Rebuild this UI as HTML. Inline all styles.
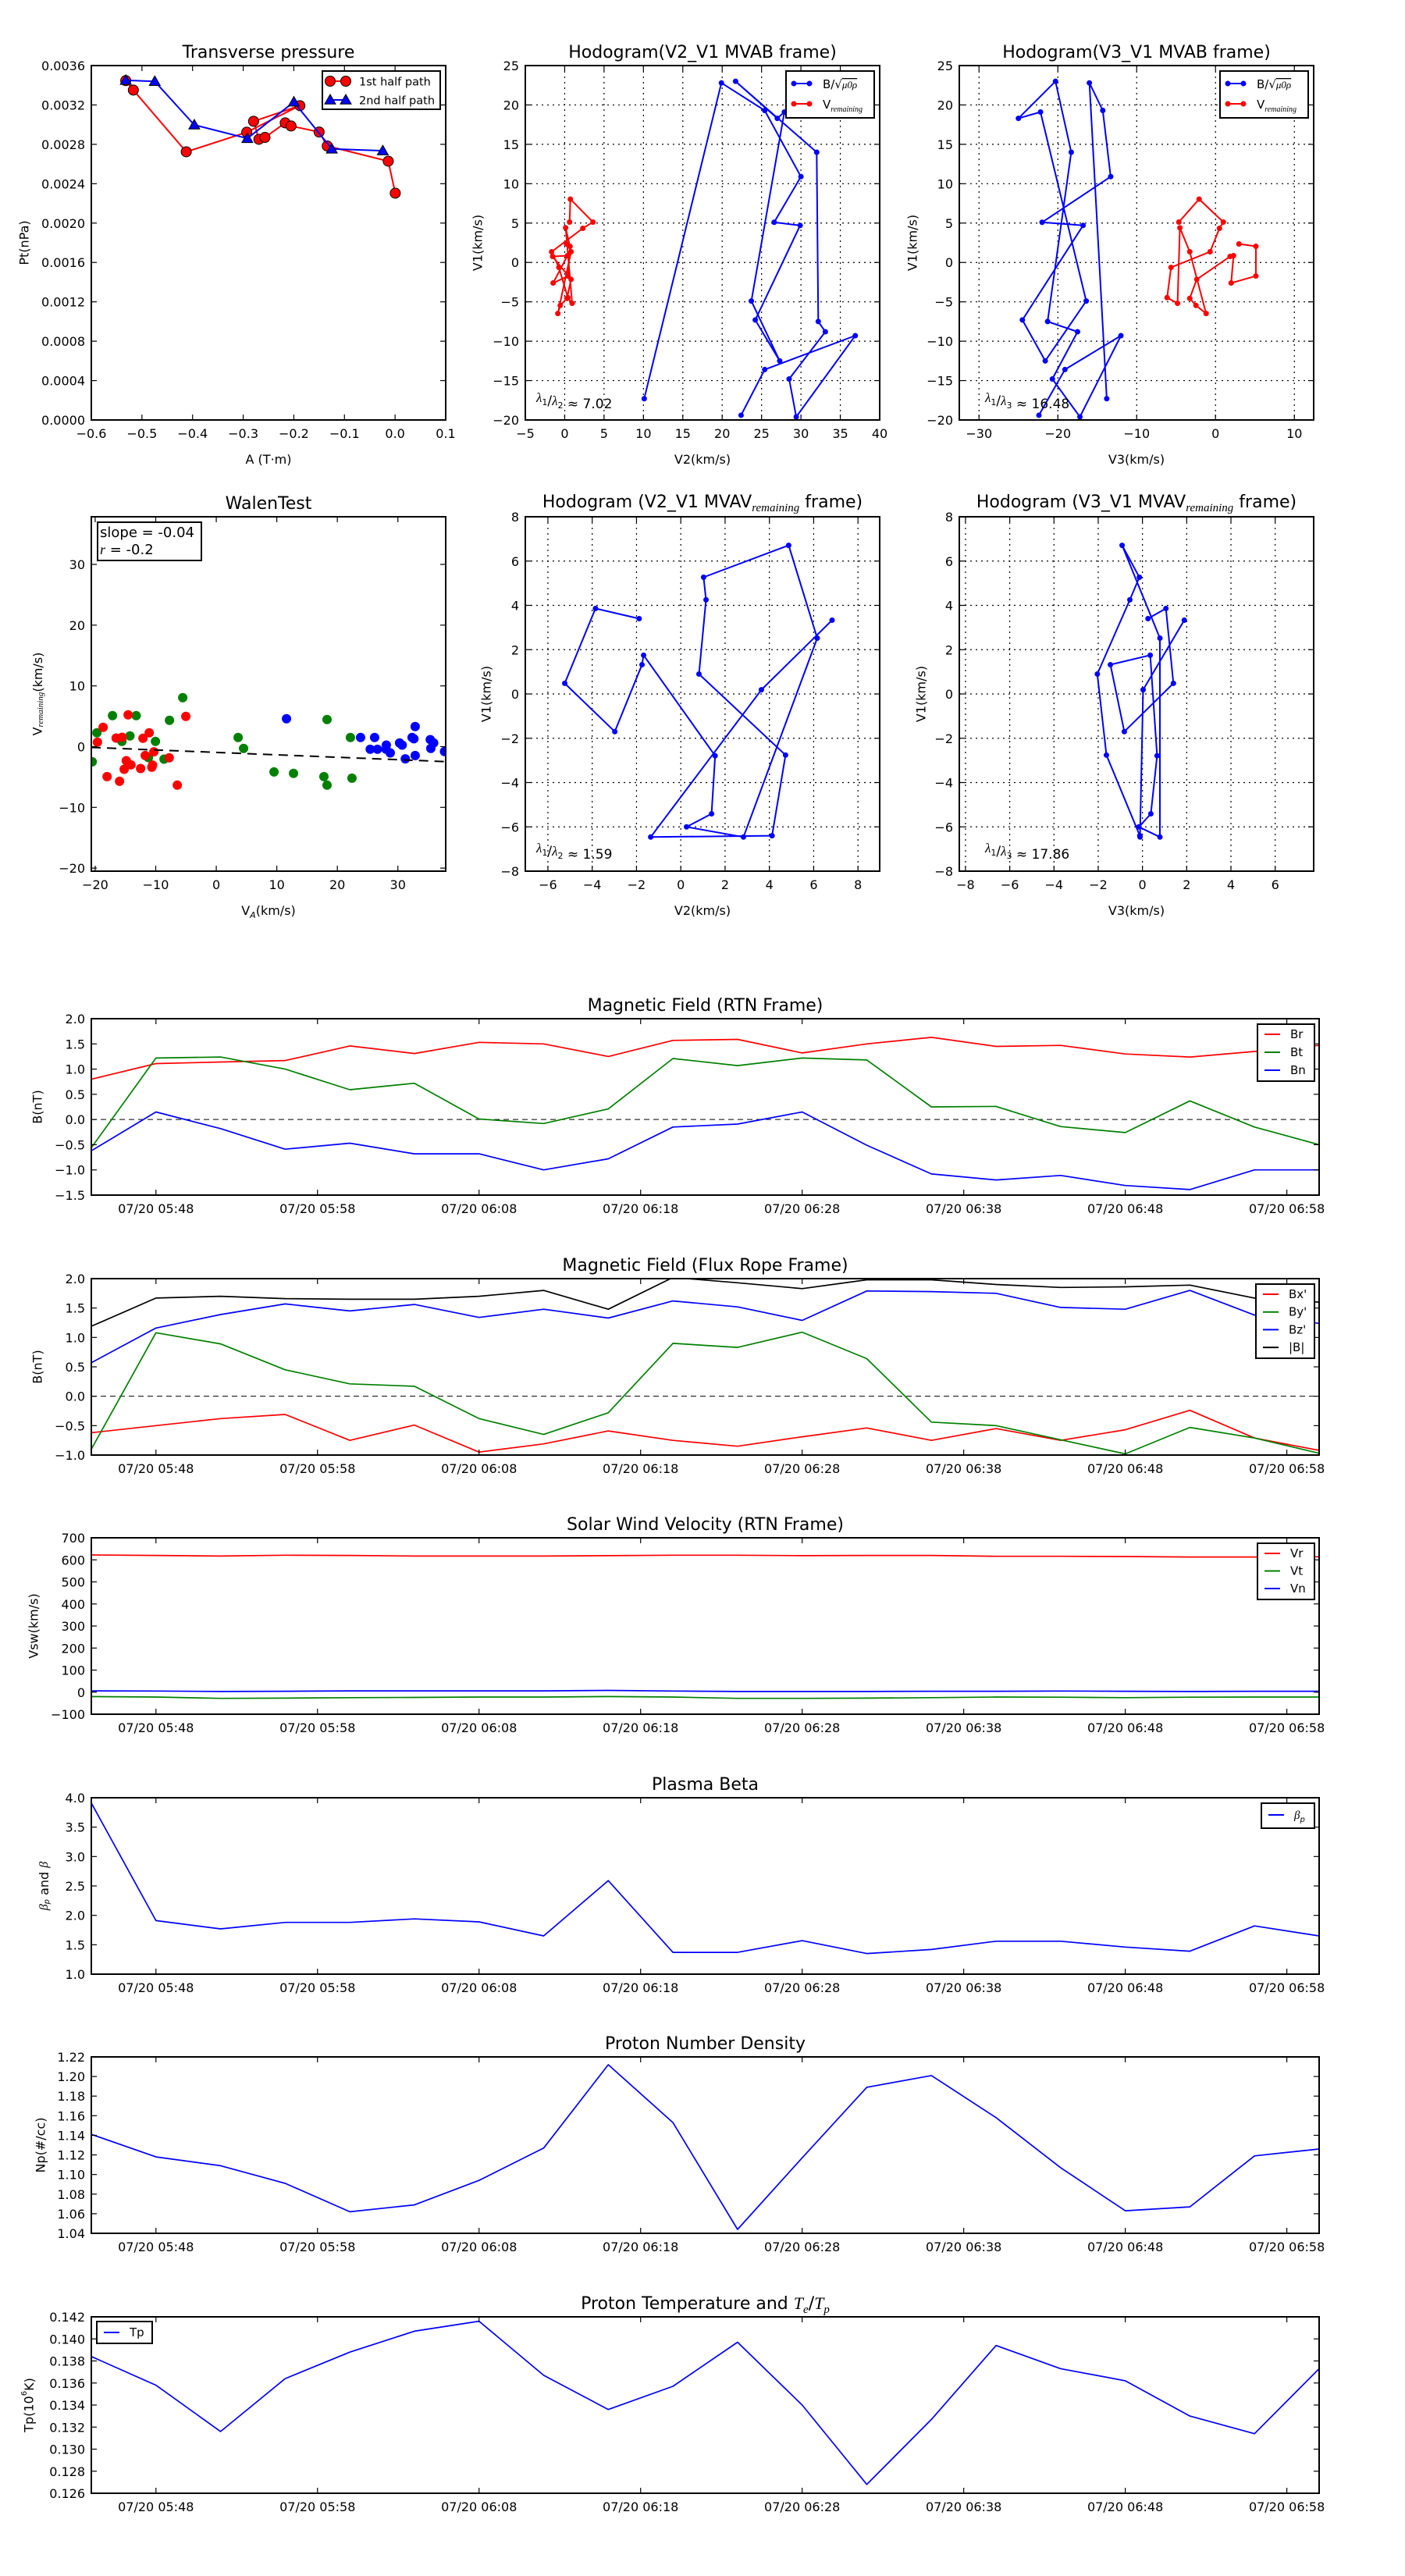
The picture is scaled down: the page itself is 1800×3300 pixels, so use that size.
<!DOCTYPE html>
<html><head><meta charset="utf-8"><style>
html,body{margin:0;padding:0;background:#fff;}
svg{display:block;font-family:"DejaVu Sans","Liberation Sans",sans-serif;}
</style></head><body>
<svg id="fig" xmlns="http://www.w3.org/2000/svg" width="1800" height="3300" viewBox="0 0 1800 3300"></svg>
<script>
// ---------- data ----------
const ptA1 = [-0.532,-0.517,-0.4125,-0.293,-0.188,-0.2795,-0.269,-0.257,-0.217,-0.2055,-0.150,-0.134,-0.0135,0.0004];
const ptP1 = [0.003447,0.003351,0.002724,0.002923,0.003193,0.003034,0.002851,0.00287,0.003018,0.002986,0.002925,0.002783,0.002629,0.002304];
const ptA2 = [-0.532,-0.4747,-0.3966,-0.2918,-0.1999,-0.1249,-0.0243];
const ptP2 = [0.00345,0.003439,0.002997,0.00286,0.00323,0.002753,0.002735];

const v1B = [-17.3,22.8,19.3,10.9,5.1,4.7,-7.3,-12.5,-4.9,19.1,18.3,23.0,14.0,-7.5,-8.8,-14.8,-19.6,-9.3,-13.6,-19.4];
const v2B = [10.1,19.9,25.4,30.0,26.6,29.9,24.2,27.3,23.7,27.9,27.0,21.7,32.0,32.2,33.1,28.5,29.4,36.9,25.4,22.4];
const v3B = [-13.8,-16.0,-14.3,-13.3,-22.0,-16.8,-24.5,-21.6,-16.4,-22.2,-25.0,-20.3,-18.3,-21.3,-17.5,-20.7,-17.2,-12.0,-19.1,-22.4];
const v1R = [2.35,2.05,-1.72,-2.61,0.86,0.76,-2.15,-4.56,-5.46,-6.48,1.36,4.40,-5.19,-4.46,-0.63,1.36,4.33,5.13,8.04,5.13];
const v2R = [0.22,0.68,0.42,-1.47,0.35,-1.53,0.81,0.29,-0.57,-0.87,0.81,0.12,0.95,0.40,-0.74,-1.66,2.30,3.59,0.72,0.62];
const v3R = [2.97,5.12,5.12,1.98,2.28,1.85,-2.38,-3.27,-2.48,-1.19,-3.27,-4.52,-4.82,-6.14,-5.64,-0.69,0.50,0.99,-2.08,-4.65];

const v1M = [3.40,3.86,0.48,-1.70,1.32,1.75,-2.79,-5.41,-6.0,-6.46,2.52,6.71,5.27,4.25,0.90,-2.76,-6.40,-6.46,0.19,3.33];
const v2M = [-1.88,-3.85,-5.24,-2.98,-1.75,-1.68,1.55,1.39,0.26,2.83,6.16,4.87,1.03,1.14,0.82,4.73,4.12,-1.36,3.64,6.83];
const v3M = [0.25,1.06,1.40,-0.82,-1.45,0.35,0.66,0.38,-0.16,0.79,0.79,-0.92,-0.14,-0.57,-2.04,-1.63,-0.12,-0.11,0.03,1.89];

const walRx = [-18.69,-19.63,-16.54,-15.55,-14.56,-12.11,-11.08,-11.73,-10.31,-14.86,-14.09,-15.21,-12.5,-10.52,-10.65,-7.77,-5.03,-18.04,-15.98,-6.44];
const walRy = [3.17,0.73,1.41,1.54,5.23,1.37,2.27,-1.46,-0.86,-2.31,-3.0,-3.73,-3.6,-3.04,-3.39,-1.84,4.97,-4.93,-5.70,-6.34];
const walGx = [-20.49,-19.72,-17.14,-15.59,-14.26,-13.23,-10.05,-11.21,-8.63,-7.73,-5.54,3.61,4.51,9.54,12.76,17.78,18.3,18.3,22.16,22.42];
const walGy = [-2.49,2.27,5.1,0.86,1.76,5.1,0.86,-1.8,-2.06,4.33,8.06,1.5,-0.3,-4.16,-4.41,-4.93,-6.34,4.46,1.5,-5.19];
const walBx = [11.6,23.84,26.16,25.43,26.63,28.09,28.05,28.74,30.28,30.71,31.23,32.35,32.65,32.86,32.86,35.35,35.91,35.44,37.7];
const walBy = [4.59,1.5,1.5,-0.43,-0.43,0.26,-0.43,-1.03,0.6,0.26,-2.01,1.5,1.29,3.3,-1.46,1.16,0.6,-0.3,-0.81];
const walSlope = [-0.04];
const walIntercept = [-0.95];

const timeCats = ["05:44","05:48","05:52","05:56","06:00","06:04","06:08","06:12","06:16","06:20","06:24","06:28","06:32","06:36","06:40","06:44","06:48","06:52","06:56","07:00"];
const timeTicks = ["05:48","05:58","06:08","06:18","06:28","06:38","06:48","06:58"];
const timeTickLabels = ["07/20 05:48","07/20 05:58","07/20 06:08","07/20 06:18","07/20 06:28","07/20 06:38","07/20 06:48","07/20 06:58"];

const br = [0.80,1.11,1.14,1.17,1.46,1.31,1.53,1.50,1.25,1.57,1.59,1.32,1.50,1.63,1.45,1.47,1.30,1.24,1.35,1.47];
const bt = [-0.56,1.22,1.24,1.00,0.59,0.72,0.01,-0.08,0.21,1.21,1.07,1.22,1.18,0.25,0.26,-0.14,-0.26,0.37,-0.15,-0.50];
const bn = [-0.62,0.15,-0.18,-0.59,-0.47,-0.68,-0.68,-1.00,-0.78,-0.15,-0.09,0.15,-0.51,-1.08,-1.20,-1.11,-1.31,-1.39,-1.00,-1.00];
const bxp = [-0.62,-0.50,-0.38,-0.31,-0.75,-0.49,-0.95,-0.81,-0.59,-0.75,-0.85,-0.69,-0.54,-0.75,-0.55,-0.75,-0.57,-0.24,-0.71,-0.92];
const byp = [-0.90,1.08,0.89,0.45,0.21,0.17,-0.38,-0.65,-0.28,0.90,0.83,1.09,0.64,-0.44,-0.50,-0.74,-0.98,-0.53,-0.71,-0.97];
const bzp = [0.57,1.16,1.39,1.57,1.45,1.56,1.34,1.48,1.33,1.62,1.52,1.29,1.79,1.78,1.75,1.51,1.48,1.80,1.38,1.24];
const bmag = [1.19,1.67,1.70,1.66,1.65,1.65,1.70,1.80,1.48,2.02,1.93,1.83,1.98,1.98,1.90,1.85,1.86,1.89,1.67,1.60];
const vr = [622,620,617,621,620,617,617,617,619,621,621,619,620,620,616,616,615,613,613,614];
const vt = [-20,-22,-28,-27,-25,-24,-22,-22,-20,-22,-28,-28,-27,-25,-22,-23,-25,-23,-22,-22];
const vn = [6,5,3,4,6,6,6,6,8,5,3,3,3,4,4,5,4,3,4,4];
const betaP = [3.91,1.91,1.77,1.88,1.88,1.94,1.89,1.65,2.59,1.37,1.37,1.57,1.35,1.42,1.56,1.56,1.46,1.39,1.82,1.65];
const np = [1.141,1.118,1.109,1.091,1.062,1.069,1.094,1.127,1.212,1.153,1.044,1.117,1.189,1.201,1.158,1.107,1.063,1.067,1.119,1.126];
const tp = [0.1384,0.1358,0.1316,0.1364,0.1388,0.1407,0.1416,0.1367,0.1336,0.1357,0.1397,0.1340,0.1268,0.1327,0.1394,0.1373,0.1362,0.1330,0.1314,0.1373];

// ---------- helpers ----------
const NS = "http://www.w3.org/2000/svg";
const svg = document.getElementById('fig');
let clipId = 0;
function mk(tag, attrs, parent, name, inter) {
  const e = document.createElementNS(NS, tag);
  for (const k in attrs) e.setAttribute(k, attrs[k]);
  
  
  parent.appendChild(e);
  return e;
}
function txt(parent, x, y, s, size, anchor, name, extra) {
  const t = mk('text', Object.assign({x: x, y: y, 'font-size': size, 'text-anchor': anchor || 'middle', fill: '#000'}, extra || {}), parent, name, false);
  t.textContent = s;
  return t;
}
function fmtNum(v, d) {
  const s = Math.abs(v).toFixed(d);
  return (v < -1e-12 ? '\u2212' : '') + s;
}
function toMin(s) { const p = s.split(':'); return (+p[0]) * 60 + (+p[1]) - (5 * 60 + 44); }

function axes(c) {
  const g = mk('g', {}, svg, c.name, false);
  const sx = v => c.x0 + (v - c.xmin) / (c.xmax - c.xmin) * (c.x1 - c.x0);
  const sy = v => c.y1 - (v - c.ymin) / (c.ymax - c.ymin) * (c.y1 - c.y0);
  const id = 'clip' + (clipId++);
  const cp = mk('clipPath', {id: id}, g, 'clip-region', false);
  mk('rect', {x: c.x0, y: c.y0, width: c.x1 - c.x0, height: c.y1 - c.y0}, cp, 'clip-rect', false);
  if (c.grid) {
    c.xticks.forEach(v => { const X = sx(v); if (X > c.x0 + 1 && X < c.x1 - 1) mk('line', {x1: X, x2: X, y1: c.y0, y2: c.y1, stroke: '#000', 'stroke-width': 1.2, 'stroke-dasharray': '2,5'}, g, 'x-grid-line', false); });
    c.yticks.forEach(v => { const Y = sy(v); if (Y > c.y0 + 1 && Y < c.y1 - 1) mk('line', {x1: c.x0, x2: c.x1, y1: Y, y2: Y, stroke: '#000', 'stroke-width': 1.2, 'stroke-dasharray': '2,5'}, g, 'y-grid-line', false); });
  }
  const data = mk('g', {'clip-path': 'url(#' + id + ')'}, g, 'plot-area', false);
  c.xticks.forEach((v, i) => {
    const X = sx(v);
    mk('line', {x1: X, x2: X, y1: c.y1, y2: c.y1 - 7, stroke: '#000', 'stroke-width': 1.2}, g, 'x-tick', false);
    mk('line', {x1: X, x2: X, y1: c.y0, y2: c.y0 + 7, stroke: '#000', 'stroke-width': 1.2}, g, 'x-tick', false);
    const lab = c.xlabels ? c.xlabels[i] : fmtNum(v, c.xd);
    txt(g, X, c.y1 + 23, lab, 16, 'middle', 'x-tick-label');
  });
  c.yticks.forEach(v => {
    const Y = sy(v);
    mk('line', {x1: c.x0, x2: c.x0 + 7, y1: Y, y2: Y, stroke: '#000', 'stroke-width': 1.2}, g, 'y-tick', false);
    mk('line', {x1: c.x1, x2: c.x1 - 7, y1: Y, y2: Y, stroke: '#000', 'stroke-width': 1.2}, g, 'y-tick', false);
    txt(g, c.x0 - 8, Y + 6, fmtNum(v, c.yd), 16, 'end', 'y-tick-label');
  });
  mk('rect', {x: c.x0, y: c.y0, width: c.x1 - c.x0, height: c.y1 - c.y0, fill: 'none', stroke: '#000', 'stroke-width': 2}, g, 'axes-frame', false);
  return {g: g, data: data, sx: sx, sy: sy, c: c};
}
function title(ax, parts, name, dy) {
  const c = ax.c;
  const t = mk('text', {x: (c.x0 + c.x1) / 2, y: c.y0 - (dy || 10), 'font-size': 22, 'text-anchor': 'middle'}, ax.g, name, false);
  parts.forEach(p => {
    const s = document.createElementNS(NS, 'tspan');
    if (p.sub) { s.setAttribute('font-style', 'italic'); s.setAttribute('font-family', '"Liberation Serif",serif'); s.setAttribute('font-size', 15); s.setAttribute('dy', 5); }
    else if (p.back) { s.setAttribute('dy', -5); }
    else if (p.it) { s.setAttribute('font-style', 'italic'); s.setAttribute('font-family', '"Liberation Serif",serif'); }
    s.textContent = p.t;
    t.appendChild(s);
  });
  return t;
}
function xlabel(ax, s, y) { const c = ax.c; return txt(ax.g, (c.x0 + c.x1) / 2, y, s, 16, 'middle', 'x-axis-title'); }
function ylabel(ax, s, x, name) {
  const c = ax.c; const cy = (c.y0 + c.y1) / 2;
  return txt(ax.g, x, cy, s, 16, 'middle', name || 'y-axis-title', {transform: 'rotate(-90 ' + x + ' ' + cy + ')', 'dominant-baseline': 'central'});
}
function polyline(ax, xs, ys, color, w, name) {
  const pts = xs.map((x, i) => ax.sx(x).toFixed(1) + ',' + ax.sy(ys[i]).toFixed(1)).join(' ');
  return mk('polyline', {points: pts, fill: 'none', stroke: color, 'stroke-width': w, 'stroke-linejoin': 'round'}, ax.data, name, false);
}
function dots(ax, xs, ys, color, r, name, edge) {
  xs.forEach((x, i) => {
    mk('circle', {cx: ax.sx(x), cy: ax.sy(ys[i]), r: r, fill: color, stroke: edge || 'none', 'stroke-width': 1}, ax.data, name, false);
  });
}
function tri(parent, x, y, s, color, name) {
  return mk('polygon', {points: x + ',' + (y - s) + ' ' + (x - s) + ',' + (y + s * 0.75) + ' ' + (x + s) + ',' + (y + s * 0.75), fill: color, stroke: '#000', 'stroke-width': 1}, parent, name, false);
}

// ---------- Row 1 ----------
const a1 = axes({name: 'transverse-pressure-chart', x0: 117, x1: 571, y0: 84, y1: 538, xmin: -0.6, xmax: 0.1, ymin: 0, ymax: 0.0036,
  xticks: [-0.6,-0.5,-0.4,-0.3,-0.2,-0.1,0.0,0.1], xd: 1, yticks: [0,0.0004,0.0008,0.0012,0.0016,0.0020,0.0024,0.0028,0.0032,0.0036], yd: 4});
title(a1, [{t: 'Transverse pressure'}], 'chart-title');
xlabel(a1, 'A (T\u00b7m)', 594);
ylabel(a1, 'Pt(nPa)', 31);
polyline(a1, ptA1, ptP1, '#f00', 2, 'first-half-path-line');
dots(a1, ptA1, ptP1, '#f00', 6.5, 'first-half-path-point', '#000');
polyline(a1, ptA2, ptP2, '#00f', 2, 'second-half-path-line');
ptA2.forEach((x, i) => { tri(a1.data, a1.sx(x), a1.sy(ptP2[i]), 7, '#00f', 'second-half-path-point'); });
{
  const lg = mk('g', {}, a1.g, 'legend', false);
  mk('rect', {x: 413, y: 91, width: 151, height: 49, fill: '#fff', stroke: '#000', 'stroke-width': 2}, lg, 'legend-frame', false);
  mk('line', {x1: 423, x2: 443, y1: 104, y2: 104, stroke: '#f00', 'stroke-width': 2}, lg, 'legend-line', false);
  mk('circle', {cx: 423, cy: 104, r: 6.5, fill: '#f00', stroke: '#000'}, lg, 'legend-marker', false);
  mk('circle', {cx: 443, cy: 104, r: 6.5, fill: '#f00', stroke: '#000'}, lg, 'legend-marker', false);
  txt(lg, 460, 109.5, '1st half path', 14.5, 'start', 'legend-entry');
  mk('line', {x1: 423, x2: 443, y1: 128, y2: 128, stroke: '#00f', 'stroke-width': 2}, lg, 'legend-line', false);
  tri(lg, 423, 128, 7, '#00f', 'legend-marker');
  tri(lg, 443, 128, 7, '#00f', 'legend-marker');
  txt(lg, 460, 133.5, '2nd half path', 14.5, 'start', 'legend-entry');
}

function hodoLegend(ax, x, yTop, name) {
  const lg = mk('g', {}, ax.g, name, false);
  mk('rect', {x: x, y: yTop, width: 113, height: 60, fill: '#fff', stroke: '#000', 'stroke-width': 2}, lg, 'legend-frame', false);
  const rows = [{c: '#00f', y: yTop + 16}, {c: '#f00', y: yTop + 42}];
  rows.forEach(r => {
    mk('line', {x1: x + 10, x2: x + 30, y1: r.y, y2: r.y, stroke: r.c, 'stroke-width': 2}, lg, 'legend-line', false);
    mk('circle', {cx: x + 10, cy: r.y, r: 3.5, fill: r.c}, lg, 'legend-marker', false);
    mk('circle', {cx: x + 30, cy: r.y, r: 3.5, fill: r.c}, lg, 'legend-marker', false);
  });
  const t1 = mk('text', {x: x + 47, y: yTop + 22, 'font-size': 15}, lg, 'legend-entry', false);
  t1.textContent = 'B/\u221a';
  const s1 = document.createElementNS(NS, 'tspan'); s1.setAttribute('font-style', 'italic'); s1.setAttribute('font-family', '"Liberation Serif",serif'); s1.setAttribute('font-size', 13);
  s1.setAttribute('text-decoration', 'overline'); s1.textContent = '\u03bc0\u03c1'; t1.appendChild(s1);
  const t2 = mk('text', {x: x + 47, y: yTop + 48, 'font-size': 15}, lg, 'legend-entry', false);
  t2.textContent = 'V';
  const s2 = document.createElementNS(NS, 'tspan'); s2.setAttribute('font-style', 'italic'); s2.setAttribute('font-family', '"Liberation Serif",serif'); s2.setAttribute('font-size', 10); s2.setAttribute('dy', 4);
  s2.textContent = 'remaining'; t2.appendChild(s2);
}
function lambdaText(ax, x, y, a, b, val) {
  const t = mk('text', {x: x, y: y, 'font-size': 17}, ax.g, 'eigenvalue-ratio-label', false);
  const parts = [['\u03bb', 'it'], ['1', 'sub'], ['/', ''], ['\u03bb', 'it'], [b, 'sub'], [' \u2248 ' + val, '']];
  parts.forEach(p => {
    const s = document.createElementNS(NS, 'tspan');
    if (p[1] === 'it') { s.setAttribute('font-style', 'italic'); s.setAttribute('font-family', '"Liberation Serif",serif'); }
    if (p[1] === 'sub') { s.setAttribute('font-size', 11); s.setAttribute('dy', 4); }
    s.textContent = p[0];
    t.appendChild(s);
    if (p[1] === 'sub') { const r = document.createElementNS(NS, 'tspan'); r.setAttribute('dy', -4); r.textContent = ''; t.appendChild(r); }
  });
}

const a2 = axes({name: 'hodogram-v2-v1-mvab-chart', x0: 673, x1: 1127, y0: 84, y1: 538, xmin: -5, xmax: 40, ymin: -20, ymax: 25,
  xticks: [-5,0,5,10,15,20,25,30,35,40], xd: 0, yticks: [-20,-15,-10,-5,0,5,10,15,20,25], yd: 0, grid: true});
title(a2, [{t: 'Hodogram(V2_V1 MVAB frame)'}], 'chart-title');
xlabel(a2, 'V2(km/s)', 594);
ylabel(a2, 'V1(km/s)', 612);
polyline(a2, v2B, v1B, '#00f', 2, 'b-alfven-path');
dots(a2, v2B, v1B, '#00f', 3.5, 'b-alfven-point');
polyline(a2, v2R, v1R, '#f00', 2, 'v-remaining-path');
dots(a2, v2R, v1R, '#f00', 3.5, 'v-remaining-point');
hodoLegend(a2, 1007, 91, 'legend');
lambdaText(a2, 687, 515, '1', '2', '7.02');

const a3 = axes({name: 'hodogram-v3-v1-mvab-chart', x0: 1229, x1: 1683, y0: 84, y1: 538, xmin: -32.5, xmax: 12.45, ymin: -20, ymax: 25,
  xticks: [-30,-20,-10,0,10], xd: 0, yticks: [-20,-15,-10,-5,0,5,10,15,20,25], yd: 0, grid: true});
title(a3, [{t: 'Hodogram(V3_V1 MVAB frame)'}], 'chart-title');
xlabel(a3, 'V3(km/s)', 594);
ylabel(a3, 'V1(km/s)', 1169);
polyline(a3, v3B, v1B, '#00f', 2, 'b-alfven-path');
dots(a3, v3B, v1B, '#00f', 3.5, 'b-alfven-point');
polyline(a3, v3R, v1R, '#f00', 2, 'v-remaining-path');
dots(a3, v3R, v1R, '#f00', 3.5, 'v-remaining-point');
hodoLegend(a3, 1563, 91, 'legend');
lambdaText(a3, 1262, 515, '1', '3', '16.48');

// ---------- Row 2 ----------
const a4 = axes({name: 'walen-test-chart', x0: 117, x1: 571, y0: 662, y1: 1116, xmin: -20.64, xmax: 37.9, ymin: -20.5, ymax: 37.84,
  xticks: [-20,-10,0,10,20,30], xd: 0, yticks: [-20,-10,0,10,20,30], yd: 0});
title(a4, [{t: 'WalenTest'}], 'chart-title');
{
  const t = mk('text', {x: (117 + 571) / 2, y: 1172, 'font-size': 16, 'text-anchor': 'middle'}, a4.g, 'x-axis-title', false);
  t.textContent = 'V';
  const s = document.createElementNS(NS, 'tspan'); s.setAttribute('font-size', 11); s.setAttribute('dy', 4); s.setAttribute('font-style', 'italic'); s.textContent = 'A'; t.appendChild(s);
  const s2 = document.createElementNS(NS, 'tspan'); s2.setAttribute('dy', -4); s2.textContent = '(km/s)'; t.appendChild(s2);
  const cy = 889, x = 48;
  const y = mk('text', {x: x, y: cy, 'font-size': 16, 'text-anchor': 'middle', transform: 'rotate(-90 ' + x + ' ' + cy + ')', 'dominant-baseline': 'central'}, a4.g, 'y-axis-title', false);
  y.textContent = 'V';
  const y1 = document.createElementNS(NS, 'tspan'); y1.setAttribute('font-size', 11); y1.setAttribute('dy', 4); y1.setAttribute('font-style', 'italic'); y1.setAttribute('font-family', '"Liberation Serif",serif'); y1.textContent = 'remaining'; y.appendChild(y1);
  const y2 = document.createElementNS(NS, 'tspan'); y2.setAttribute('dy', -4); y2.textContent = '(km/s)'; y.appendChild(y2);
}
dots(a4, walGx, walGy, '#008000', 6, 'walen-point-green');
dots(a4, walRx, walRy, '#f00', 6, 'walen-point-red');
dots(a4, walBx, walBy, '#00f', 6, 'walen-point-blue');
{
  const xa = -20.64, xb = 37.9;
  mk('line', {x1: a4.sx(xa), x2: a4.sx(xb), y1: a4.sy(walSlope[0] * xa + walIntercept[0]), y2: a4.sy(walSlope[0] * xb + walIntercept[0]), stroke: '#000', 'stroke-width': 2, 'stroke-dasharray': '12,8'}, a4.data, 'fit-line', false);
  const bx = mk('g', {}, a4.g, 'stats-box', false);
  mk('rect', {x: 125, y: 669, width: 133, height: 49, fill: '#fff', stroke: '#000', 'stroke-width': 2}, bx, 'stats-frame', false);
  txt(bx, 128, 688, 'slope = -0.04', 18, 'start', 'slope-label');
  const r = mk('text', {x: 128, y: 710, 'font-size': 18}, bx, 'correlation-label', false);
  const ri = document.createElementNS(NS, 'tspan'); ri.setAttribute('font-style', 'italic'); ri.setAttribute('font-family', '"Liberation Serif",serif'); ri.textContent = 'r'; r.appendChild(ri);
  const rr = document.createElementNS(NS, 'tspan'); rr.textContent = ' = -0.2'; r.appendChild(rr);
}

const a5 = axes({name: 'hodogram-v2-v1-mvav-chart', x0: 673, x1: 1127, y0: 662, y1: 1116, xmin: -7.02, xmax: 8.98, ymin: -8, ymax: 8,
  xticks: [-6,-4,-2,0,2,4,6,8], xd: 0, yticks: [-8,-6,-4,-2,0,2,4,6,8], yd: 0, grid: true});
title(a5, [{t: 'Hodogram (V2_V1 MVAV'}, {t: 'remaining', sub: true}, {t: ' frame)', back: true}], 'chart-title', 12);
xlabel(a5, 'V2(km/s)', 1172);
ylabel(a5, 'V1(km/s)', 623);
polyline(a5, v2M, v1M, '#00f', 2, 'v-remaining-path');
dots(a5, v2M, v1M, '#00f', 3.5, 'v-remaining-point');
lambdaText(a5, 687, 1092, '1', '2', '1.59');

const a6 = axes({name: 'hodogram-v3-v1-mvav-chart', x0: 1229, x1: 1683, y0: 662, y1: 1116, xmin: -8.28, xmax: 7.74, ymin: -8, ymax: 8,
  xticks: [-8,-6,-4,-2,0,2,4,6], xd: 0, yticks: [-8,-6,-4,-2,0,2,4,6,8], yd: 0, grid: true});
title(a6, [{t: 'Hodogram (V3_V1 MVAV'}, {t: 'remaining', sub: true}, {t: ' frame)', back: true}], 'chart-title', 12);
xlabel(a6, 'V3(km/s)', 1172);
ylabel(a6, 'V1(km/s)', 1180);
polyline(a6, v3M, v1M, '#00f', 2, 'v-remaining-path');
dots(a6, v3M, v1M, '#00f', 3.5, 'v-remaining-point');
lambdaText(a6, 1262, 1092, '1', '3', '17.86');

// ---------- time series ----------
const tMin = timeCats.map(toMin);
const tickMin = timeTicks.map(toMin);
const TSH = 226;
function tsAxes(name, top, ymin, ymax, yticks, yd) {
  return axes({name: name, x0: 117, x1: 1690, y0: top, y1: top + TSH, xmin: 0, xmax: 76, ymin: ymin, ymax: ymax,
    xticks: tickMin, xlabels: timeTickLabels, yticks: yticks, yd: yd});
}
function tsLegend(ax, x, dy, w, h, entries, row0, step, name) {
  const top = ax.c.y0;
  const lg = mk('g', {}, ax.g, name, false);
  mk('rect', {x: x, y: top + dy, width: w, height: h, fill: '#fff', stroke: '#000', 'stroke-width': 2}, lg, 'legend-frame', false);
  entries.forEach((e, i) => {
    const yy = top + row0 + i * step;
    mk('line', {x1: x + 9, x2: x + 29, y1: yy, y2: yy, stroke: e.c, 'stroke-width': 2}, lg, 'legend-line', false);
    const t = txt(lg, x + 42, yy + 5, '', 15, 'start', 'legend-entry');
    if (e.it) {
      const s = document.createElementNS(NS, 'tspan'); s.setAttribute('font-style', 'italic'); s.setAttribute('font-family', '"Liberation Serif",serif'); s.textContent = '\u03b2'; t.appendChild(s);
      const s2 = document.createElementNS(NS, 'tspan'); s2.setAttribute('font-size', 10); s2.setAttribute('dy', 4); s2.setAttribute('font-style', 'italic'); s2.textContent = 'p'; t.appendChild(s2);
    } else t.textContent = e.l;
  });
}
function zeroLine(ax) {
  mk('line', {x1: ax.c.x0, x2: ax.c.x1, y1: ax.sy(0), y2: ax.sy(0), stroke: '#000', 'stroke-width': 1, 'stroke-dasharray': '7,5'}, ax.data, 'zero-line', false);
}

const t1 = tsAxes('magnetic-field-rtn-chart', 1305, -1.5, 2.0, [-1.5,-1.0,-0.5,0.0,0.5,1.0,1.5,2.0], 1);
title(t1, [{t: 'Magnetic Field (RTN Frame)'}], 'chart-title');
ylabel(t1, 'B(nT)', 48);
zeroLine(t1);
polyline(t1, tMin, br, '#f00', 1.7, 'br-line');
polyline(t1, tMin, bt, '#008000', 1.7, 'bt-line');
polyline(t1, tMin, bn, '#00f', 1.7, 'bn-line');
tsLegend(t1, 1611, 7, 73, 73, [{c: '#f00', l: 'Br'}, {c: '#008000', l: 'Bt'}, {c: '#00f', l: 'Bn'}], 20, 23, 'legend');

const t2 = tsAxes('magnetic-field-flux-rope-chart', 1638, -1.0, 2.0, [-1.0,-0.5,0.0,0.5,1.0,1.5,2.0], 1);
title(t2, [{t: 'Magnetic Field (Flux Rope Frame)'}], 'chart-title');
ylabel(t2, 'B(nT)', 48);
zeroLine(t2);
polyline(t2, tMin, bxp, '#f00', 1.7, 'bx-line');
polyline(t2, tMin, byp, '#008000', 1.7, 'by-line');
polyline(t2, tMin, bzp, '#00f', 1.7, 'bz-line');
polyline(t2, tMin, bmag, '#000', 1.7, 'bmag-line');
tsLegend(t2, 1609, 7, 75, 95, [{c: '#f00', l: "Bx'"}, {c: '#008000', l: "By'"}, {c: '#00f', l: "Bz'"}, {c: '#000', l: '|B|'}], 20, 22.7, 'legend');

const t3 = tsAxes('solar-wind-velocity-chart', 1970, -100, 700, [-100,0,100,200,300,400,500,600,700], 0);
title(t3, [{t: 'Solar Wind Velocity (RTN Frame)'}], 'chart-title');
ylabel(t3, 'Vsw(km/s)', 43);
polyline(t3, tMin, vr, '#f00', 1.7, 'vr-line');
polyline(t3, tMin, vt, '#008000', 1.7, 'vt-line');
polyline(t3, tMin, vn, '#00f', 1.7, 'vn-line');
tsLegend(t3, 1611, 7, 73, 72, [{c: '#f00', l: 'Vr'}, {c: '#008000', l: 'Vt'}, {c: '#00f', l: 'Vn'}], 20, 22.5, 'legend');

const t4 = tsAxes('plasma-beta-chart', 2303, 1.0, 4.0, [1.0,1.5,2.0,2.5,3.0,3.5,4.0], 1);
title(t4, [{t: 'Plasma Beta'}], 'chart-title');
{
  const x = 56, cy = 2303 + TSH / 2;
  const y = mk('text', {x: x, y: cy, 'font-size': 16, 'text-anchor': 'middle', transform: 'rotate(-90 ' + x + ' ' + cy + ')', 'dominant-baseline': 'central'}, t4.g, 'y-axis-title', false);
  const a = document.createElementNS(NS, 'tspan'); a.setAttribute('font-style', 'italic'); a.setAttribute('font-family', '"Liberation Serif",serif'); a.textContent = '\u03b2'; y.appendChild(a);
  const b = document.createElementNS(NS, 'tspan'); b.setAttribute('font-size', 10); b.setAttribute('dy', 4); b.setAttribute('font-style', 'italic'); b.textContent = 'p'; y.appendChild(b);
  const c = document.createElementNS(NS, 'tspan'); c.setAttribute('dy', -4); c.textContent = ' and '; y.appendChild(c);
  const d = document.createElementNS(NS, 'tspan'); d.setAttribute('font-style', 'italic'); d.setAttribute('font-family', '"Liberation Serif",serif'); d.textContent = '\u03b2'; y.appendChild(d);
}
polyline(t4, tMin, betaP, '#00f', 1.7, 'beta-p-line');
tsLegend(t4, 1616, 7, 68, 32, [{c: '#00f', it: true}], 22, 0, 'legend');

const t5 = tsAxes('proton-density-chart', 2635, 1.04, 1.22, [1.04,1.06,1.08,1.10,1.12,1.14,1.16,1.18,1.20,1.22], 2);
title(t5, [{t: 'Proton Number Density'}], 'chart-title');
ylabel(t5, 'Np(#/cc)', 52);
polyline(t5, tMin, np, '#00f', 1.7, 'np-line');

const t6 = tsAxes('proton-temperature-chart', 2968, 0.126, 0.142, [0.126,0.128,0.130,0.132,0.134,0.136,0.138,0.140,0.142], 3);
title(t6, [{t: 'Proton Temperature and '}, {t: 'T', it: true}, {t: 'e', sub: true}, {t: '/', back: true}, {t: 'T', it: true}, {t: 'p', sub: true}], 'chart-title');
{
  const x = 37, cy = 2968 + TSH / 2;
  const y = mk('text', {x: x, y: cy, 'font-size': 16, 'text-anchor': 'middle', transform: 'rotate(-90 ' + x + ' ' + cy + ')', 'dominant-baseline': 'central'}, t6.g, 'y-axis-title', false);
  y.textContent = 'Tp(10';
  const s = document.createElementNS(NS, 'tspan'); s.setAttribute('font-size', 10); s.setAttribute('dy', -6); s.textContent = '6'; y.appendChild(s);
  const s2 = document.createElementNS(NS, 'tspan'); s2.setAttribute('dy', 6); s2.textContent = 'K)'; y.appendChild(s2);
}
polyline(t6, tMin, tp, '#00f', 1.7, 'tp-line');
tsLegend(t6, 124, 6, 71, 28, [{c: '#00f', l: 'Tp'}], 20, 0, 'legend');
</script>
</body></html>
